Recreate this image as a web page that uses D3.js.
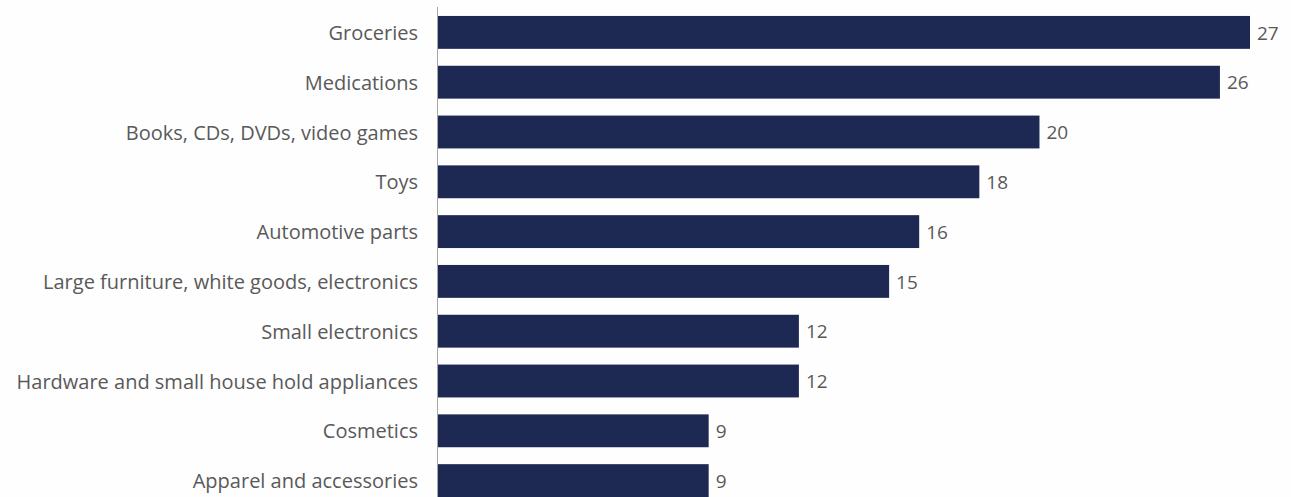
<!DOCTYPE html>
<html>
<head>
<meta charset="utf-8">
<script src="https://cdn.jsdelivr.net/npm/d3@7"></script>
<style>
  html, body { margin: 0; padding: 0; background: #fefefe; }
  svg { display: block; }
</style>
</head>
<body>
<script>
const categories = [
  "Groceries",
  "Medications",
  "Books, CDs, DVDs, video games",
  "Toys",
  "Automotive parts",
  "Large furniture, white goods, electronics",
  "Small electronics",
  "Hardware and small house hold appliances",
  "Cosmetics",
  "Apparel and accessories"
];
const values = [27, 26, 20, 18, 16, 15, 12, 12, 9, 9];

const W = 1291, H = 497;
const svg = d3.select("body").append("svg").attr("width", W).attr("height", H);

const x = d3.scaleLinear().domain([0, 27]).range([438, 1250]);
const y = d3.scaleBand().domain(categories).range([7.5, 505.5]).paddingInner(0.34).paddingOuter(0.17);

const data = categories.map((c, i) => ({ c, v: values[i] }));

svg.selectAll("rect.bar").data(data).enter().append("rect")
  .attr("class", "bar")
  .attr("x", x(0))
  .attr("y", d => y(d.c))
  .attr("width", d => x(d.v) - x(0))
  .attr("height", y.bandwidth())
  .attr("fill", "#1d2853");

const font = "'Open Sans', 'Liberation Sans', sans-serif";

svg.selectAll("text.val").data(data).enter().append("text")
  .attr("class", "val")
  .attr("x", d => x(d.v) + 7)
  .attr("y", d => y(d.c) + y.bandwidth() / 2)
  .attr("dy", "0.38em")
  .attr("font-family", font)
  .attr("font-size", 19)
  .attr("fill", "#595959")
  .text(d => d.v);

const axis = d3.axisLeft(y).tickSize(0).tickPadding(20);
const g = svg.append("g").attr("transform", `translate(${x(0)},0)`).call(axis);
g.select(".domain").remove();
g.selectAll("text")
  .attr("dy", "0.38em")
  .attr("font-family", font)
  .attr("font-size", 20)
  .attr("fill", "#595959");

svg.append("line")
  .attr("x1", x(0) - 0.5).attr("x2", x(0) - 0.5)
  .attr("y1", 7).attr("y2", H)
  .attr("stroke", "#a6a6a6").attr("stroke-width", 1);
</script>
</body>
</html>
